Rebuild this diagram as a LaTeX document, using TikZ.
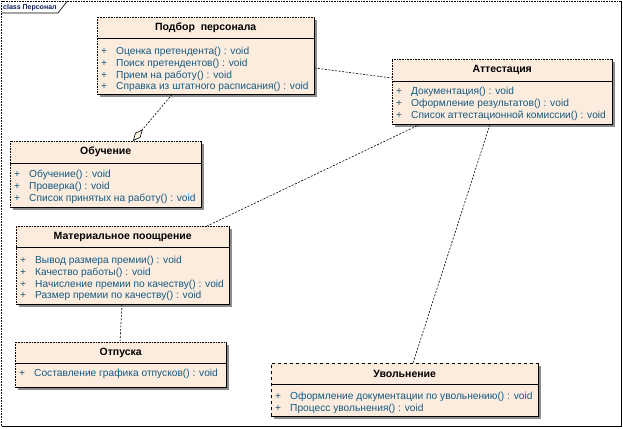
\documentclass[tikz,border=0pt]{standalone}
\usepackage{fontspec}
\setmainfont{Liberation Sans}
\usetikzlibrary{arrows.meta,calc,shadows}
\definecolor{boxfill}{RGB}{252,236,222}
\definecolor{optext}{RGB}{20,90,130}
\definecolor{shadowc}{RGB}{140,140,140}
\definecolor{tabtext}{RGB}{10,30,90}
\definecolor{diafill}{RGB}{245,240,225}
\tikzset{
  classbox/.style={draw=none, fill=boxfill, inner sep=0pt, anchor=north west,
    drop shadow={shadow xshift=3pt, shadow yshift=-3pt, fill=shadowc, opacity=1}},
  toptitle/.style={font=\fontsize{10.5}{12}\selectfont\bfseries, inner sep=0pt, anchor=center},
  opline/.style={font=\fontsize{10.2}{12}\selectfont, text=optext, inner sep=0pt, anchor=west},
  softedge/.style={line width=0.6pt, densely dotted},
  hardedge/.style={line width=0.6pt},
  link/.style={line width=0.6pt, dash pattern=on 2pt off 1.5pt},
}
\newcommand\plusop[1]{\makebox[15pt][l]{+}#1}
\newcommand\boxedges[2]{%
  \draw[#2] (#1.south west) -- (#1.north west) -- (#1.north east);
  \draw[hardedge] (#1.north east) -- (#1.south east) -- (#1.south west);
}
\begin{document}
\begin{tikzpicture}[x=1pt,y=-1pt]
\useasboundingbox (0,0) rectangle (623,428);
% frame
\coordinate (fa) at (1.5,1.5);
\coordinate (fb) at (621,1.5);
\coordinate (fc) at (621,426);
\coordinate (fd) at (1.5,426);
\draw[softedge] (fd) -- (fa) -- (fb);
\draw[hardedge] (fb) -- (fc) -- (fd);
\coordinate (ta) at (1.5,13);
\coordinate (tb) at (58,13);
\coordinate (tc) at (67,1.5);
\draw[hardedge] (ta) -- (tb) -- (tc);
\node[font=\fontsize{7}{8}\selectfont\bfseries, text=tabtext, anchor=west, inner sep=0pt] (tab) at (3,7.5) {class Персонал};

% Подбор персонала
\node[classbox, minimum width=217pt, minimum height=77pt] (podbor) at (97,17) {};
\boxedges{podbor}{softedge}
\draw[hardedge] ($(podbor.north west)+(0,21)$) -- ($(podbor.north east)+(0,21)$);
\node[toptitle] (podbor-t) at ($(podbor.north)+(0,10.5)$) {Подбор\ \ персонала};
\node[opline] (podbor-1) at ($(podbor.north west)+(4,35)$) {\plusop{Оценка претендента() : void}};
\node[opline] (podbor-2) at ($(podbor.north west)+(4,46.7)$) {\plusop{Поиск претендентов() : void}};
\node[opline] (podbor-3) at ($(podbor.north west)+(4,58.4)$) {\plusop{Прием на работу() : void}};
\node[opline] (podbor-4) at ($(podbor.north west)+(4,70)$) {\plusop{Справка из штатного расписания() : void}};

% Обучение
\node[classbox, minimum width=191pt, minimum height=66pt] (obuch) at (10,141) {};
\boxedges{obuch}{softedge}
\draw[hardedge] ($(obuch.north west)+(0,22)$) -- ($(obuch.north east)+(0,22)$);
\node[toptitle] (obuch-t) at ($(obuch.north)+(0,11)$) {Обучение};
\node[opline] (obuch-1) at ($(obuch.north west)+(4,34)$) {\plusop{Обучение() : void}};
\node[opline] (obuch-2) at ($(obuch.north west)+(4,45.7)$) {\plusop{Проверка() : void}};
\node[opline] (obuch-3) at ($(obuch.north west)+(4,57.4)$) {\plusop{Список принятых на работу() : void}};

% Аттестация
\node[classbox, minimum width=220pt, minimum height=65pt] (attest) at (392,59) {};
\boxedges{attest}{softedge}
\draw[hardedge] ($(attest.north west)+(0,22)$) -- ($(attest.north east)+(0,22)$);
\node[toptitle] (attest-t) at ($(attest.north)+(0,11)$) {Аттестация};
\node[opline] (attest-1) at ($(attest.north west)+(4,33)$) {\plusop{Документация() : void}};
\node[opline] (attest-2) at ($(attest.north west)+(4,44.7)$) {\plusop{Оформление результатов() : void}};
\node[opline] (attest-3) at ($(attest.north west)+(4,56.4)$) {\plusop{Список аттестационной комиссии() : void}};

% Материальное поощрение
\node[classbox, minimum width=213pt, minimum height=78pt] (mater) at (16,226) {};
\boxedges{mater}{softedge}
\draw[hardedge] ($(mater.north west)+(0,21)$) -- ($(mater.north east)+(0,21)$);
\node[toptitle] (mater-t) at ($(mater.north)+(0,11)$) {Материальное поощрение};
\node[opline] (mater-1) at ($(mater.north west)+(4,35)$) {\plusop{Вывод размера премии() : void}};
\node[opline] (mater-2) at ($(mater.north west)+(4,46.7)$) {\plusop{Качество работы() : void}};
\node[opline] (mater-3) at ($(mater.north west)+(4,58.4)$) {\plusop{Начисление премии по качеству() : void}};
\node[opline] (mater-4) at ($(mater.north west)+(4,70)$) {\plusop{Размер премии по качеству() : void}};

% Отпуска
\node[classbox, minimum width=211pt, minimum height=45pt] (otpusk) at (15,342) {};
\boxedges{otpusk}{softedge}
\draw[hardedge] ($(otpusk.north west)+(0,21)$) -- ($(otpusk.north east)+(0,21)$);
\node[toptitle] (otpusk-t) at ($(otpusk.north)+(0,10.5)$) {Отпуска};
\node[opline] (otpusk-1) at ($(otpusk.north west)+(4,32)$) {\plusop{Составление графика отпусков() : void}};

% Увольнение
\node[classbox, minimum width=267pt, minimum height=53pt] (uvol) at (271,363) {};
\boxedges{uvol}{hardedge, dashed}
\draw[hardedge] ($(uvol.north west)+(0,21)$) -- ($(uvol.north east)+(0,21)$);
\node[toptitle] (uvol-t) at ($(uvol.north)+(0,11)$) {Увольнение};
\node[opline] (uvol-1) at ($(uvol.north west)+(4,34)$) {\plusop{Оформление документации по увольнению() : void}};
\node[opline] (uvol-2) at ($(uvol.north west)+(4,45.7)$) {\plusop{Процесс увольнения() : void}};

% connectors
\draw[link, -{Diamond[open, fill=diafill, length=15pt, width=7pt, line width=0.6pt]}]
  ($(podbor.south west)+(75,0)$) -- ($(obuch.north west)+(123,0)$);
\draw[link] ($(podbor.north east)+(0,51)$) -- ($(attest.north west)+(0,19)$);
\draw[link] ($(attest.south west)+(28,0)$) -- ($(mater.north west)+(191,0)$);
\draw[link] ($(attest.south west)+(98,0)$) -- ($(uvol.north west)+(142,0)$);
\draw[link] ($(mater.south west)+(106,0)$) -- ($(otpusk.north west)+(105,0)$);
\end{tikzpicture}
\end{document}
